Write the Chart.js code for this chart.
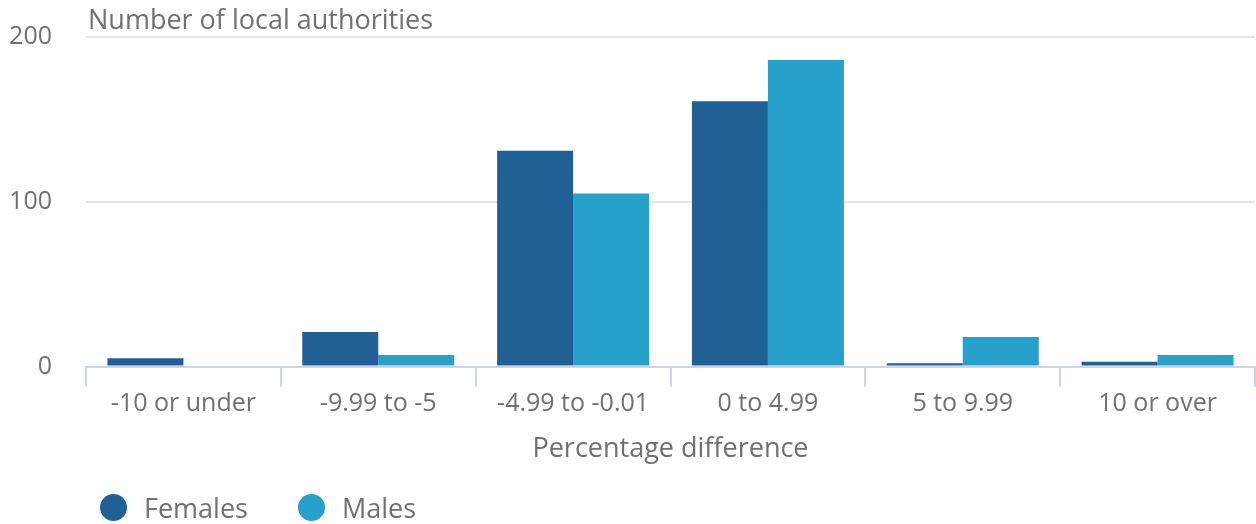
<!DOCTYPE html>
<html>
<head>
<meta charset="utf-8">
<script src="https://cdn.jsdelivr.net/npm/chart.js@4.4.1/dist/chart.umd.min.js"></script>
<style>
  html, body { margin: 0; padding: 0; background: #fff; }
  #wrap { position: relative; width: 1256px; height: 524px; font-family: "Open Sans", sans-serif; }
  #legend { position: absolute; left: 100px; top: 489px; display: flex; color: #707070; font-size: 27px; line-height: 37px; }
  #legend .item { display: flex; align-items: center; margin-right: 50px; }
  #legend .dot { width: 27px; height: 27px; border-radius: 50%; margin-right: 17px; }
</style>
</head>
<body>
<div id="wrap">
  <canvas id="myChart" width="1256" height="524"></canvas>
  <div id="legend"></div>
</div>
<script>
const categories = ['-10 or under', '-9.99 to -5', '-4.99 to -0.01', '0 to 4.99', '5 to 9.99', '10 or over'];
const females = [5, 21, 131, 161, 2, 3];
const males = [0, 7, 105, 186, 18, 7];
const yTicks = [0, 100, 200];

const textColor = '#707070';
const ctx = document.getElementById('myChart');

// y axis title sits horizontally above the plot
const yTitle = {
  id: 'yTitle',
  afterDraw: (chart) => {
    const {ctx, chartArea} = chart;
    ctx.save();
    ctx.font = '27px "Open Sans"';
    ctx.fillStyle = textColor;
    ctx.textBaseline = 'alphabetic';
    ctx.fillText('Number of local authorities', chartArea.left + 2, chartArea.top - 8.5);
    ctx.restore();
  }
};

const chart = new Chart(ctx, {
  type: 'bar',
  data: {
    labels: categories,
    datasets: [
      { label: 'Females', data: females, backgroundColor: '#206095' },
      { label: 'Males', data: males, backgroundColor: '#27a0cc' }
    ]
  },
  options: {
    responsive: false,
    animation: false,
    devicePixelRatio: 1,
    categoryPercentage: 0.78,
    barPercentage: 1,
    layout: { padding: { left: 10, right: 1, top: 37, bottom: 58 } },
    font: { family: '"Open Sans"' },
    plugins: {
      legend: { display: false },
      tooltip: { enabled: false }
    },
    scales: {
      x: {
        offset: true,
        grid: { offset: true, drawOnChartArea: false, drawTicks: true, tickLength: 20, color: '#ccd6eb', lineWidth: 2 },
        border: { color: '#ccd6eb', width: 2 },
        ticks: { color: textColor, font: { size: 25, family: '"Open Sans"' }, padding: 2, maxRotation: 0 },
        title: { display: true, text: 'Percentage difference', color: textColor, font: { size: 27, family: '"Open Sans"' }, padding: { top: 13, bottom: 0 } }
      },
      y: {
        min: 0,
        max: 200,
        afterBuildTicks: (axis) => { axis.ticks = yTicks.map(v => ({ value: v })); },
        afterFit: (axis) => {
          axis.width = 76;
          axis.paddingTop = 0;
          axis.paddingBottom = 0;
        },
        grid: { drawTicks: false, color: (c) => c.tick && c.tick.value === 0 ? 'rgba(0,0,0,0)' : '#e6e6e6', lineWidth: 2 },
        border: { display: false },
        ticks: { color: textColor, font: { size: 25, family: '"Open Sans"' }, padding: 34 }
      }
    }
  },
  plugins: [yTitle]
});

// html legend built from the datasets
const legendEl = document.getElementById('legend');
chart.data.datasets.forEach((ds) => {
  const item = document.createElement('div');
  item.className = 'item';
  const dot = document.createElement('span');
  dot.className = 'dot';
  dot.style.background = ds.backgroundColor;
  const txt = document.createElement('span');
  txt.textContent = ds.label;
  item.appendChild(dot);
  item.appendChild(txt);
  legendEl.appendChild(item);
});
</script>
</body>
</html>
